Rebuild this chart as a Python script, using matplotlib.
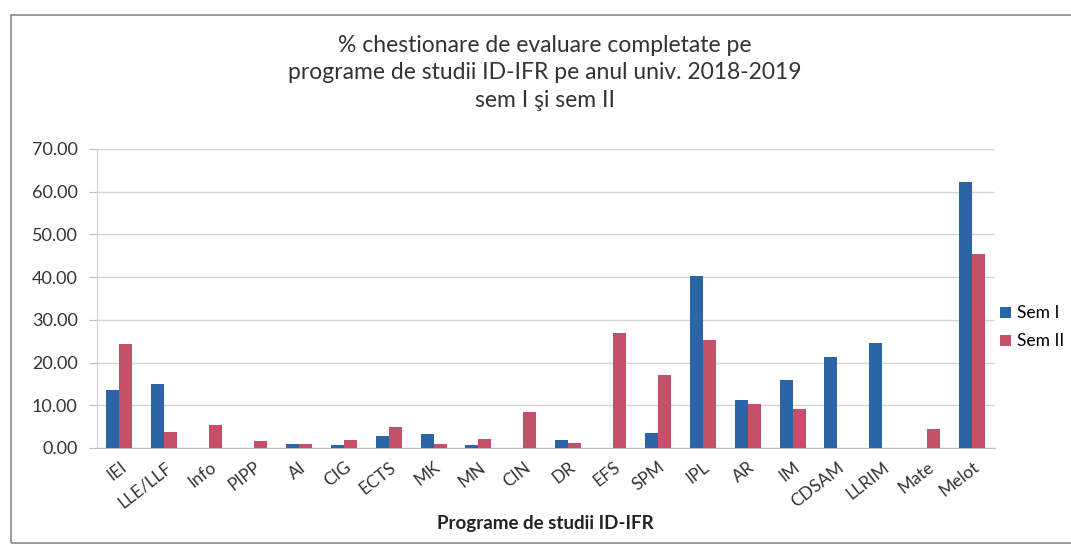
import numpy as np
from matplotlib import pyplot as plt
from matplotlib.patches import Rectangle

# date
programe = ["IEI", "LLE/LLF", "Info", "PIPP", "AI", "CIG", "ECTS", "MK", "MN", "CIN",
            "DR", "EFS", "SPM", "IPL", "AR", "IM", "CDSAM", "LLRIM", "Mate", "Melot"]
sem_1 = [13.6, 15.0, 0, 0, 1.0, 0.8, 2.7, 3.2, 0.8, 0,
         1.8, 0, 3.5, 40.3, 11.3, 15.8, 21.2, 24.5, 0, 62.3]
sem_2 = [24.3, 3.7, 5.4, 1.7, 1.0, 1.8, 5.0, 1.0, 2.2, 8.5,
         1.2, 27.0, 17.0, 25.3, 10.2, 9.0, 0, 0, 4.5, 45.5]

plt.rcParams['font.family'] = ['Lato', 'DejaVu Sans']

fig = plt.figure(figsize=(10.71, 5.53), dpi=100)
ax = fig.add_axes([0.0906, 0.19, 0.838, 0.5406])

# chenar gri in jurul graficului
fig.patches.append(Rectangle((0.010, 0.018), 1.1, 0.955, transform=fig.transFigure,
                             fill=False, edgecolor='#8a8a8a', linewidth=1.2))

bar_width = 0.29
x = np.arange(len(programe))
ax.bar(x - bar_width / 2, sem_1, width=bar_width, color='#2B65A5', label='Sem I', zorder=3)
ax.bar(x + bar_width / 2, sem_2, width=bar_width, color='#C4506A', label='Sem II', zorder=3)

ax.set_xlim(-0.5, len(programe) - 0.5)
ax.set_ylim(0, 70)
ax.set_yticks(np.arange(0, 71, 10))
ax.set_yticklabels([f"{v:.2f}" for v in range(0, 71, 10)], fontsize=13, color='#333333')
ax.set_xticks(x)
ax.set_xticklabels(programe, rotation=38, ha='right', rotation_mode='anchor',
                   fontsize=12.5, color='#333333')
ax.tick_params(axis='x', length=0, pad=8)
ax.tick_params(axis='y', length=6, color='#bbbbbb', pad=8)
ax.grid(axis='y', color='#d4d4d4', linewidth=1, zorder=0)
for s in ['top', 'right']:
    ax.spines[s].set_visible(False)
ax.spines['left'].set_color('#cfcfcf')
ax.spines['bottom'].set_color('#bdbdbd')

ax.set_xlabel("Programe de studii ID-IFR", fontsize=13.5, fontweight='bold', labelpad=3,
              color='#222222')

fig.text(0.509, 0.868, "% chestionare de evaluare completate pe\n"
         "programe de studii ID-IFR pe anul univ. 2018-2019\nsem I şi sem II",
         ha='center', va='center', fontsize=16.5, linespacing=1.36, color='#333333')

fig.legend(loc='center left', bbox_to_anchor=(0.934, 0.408), frameon=False,
           fontsize=12.5, handlelength=0.6, handleheight=0.6, handletextpad=0.35,
           labelspacing=0.7, borderaxespad=0, borderpad=0)

plt.savefig('out.png', dpi=100)
